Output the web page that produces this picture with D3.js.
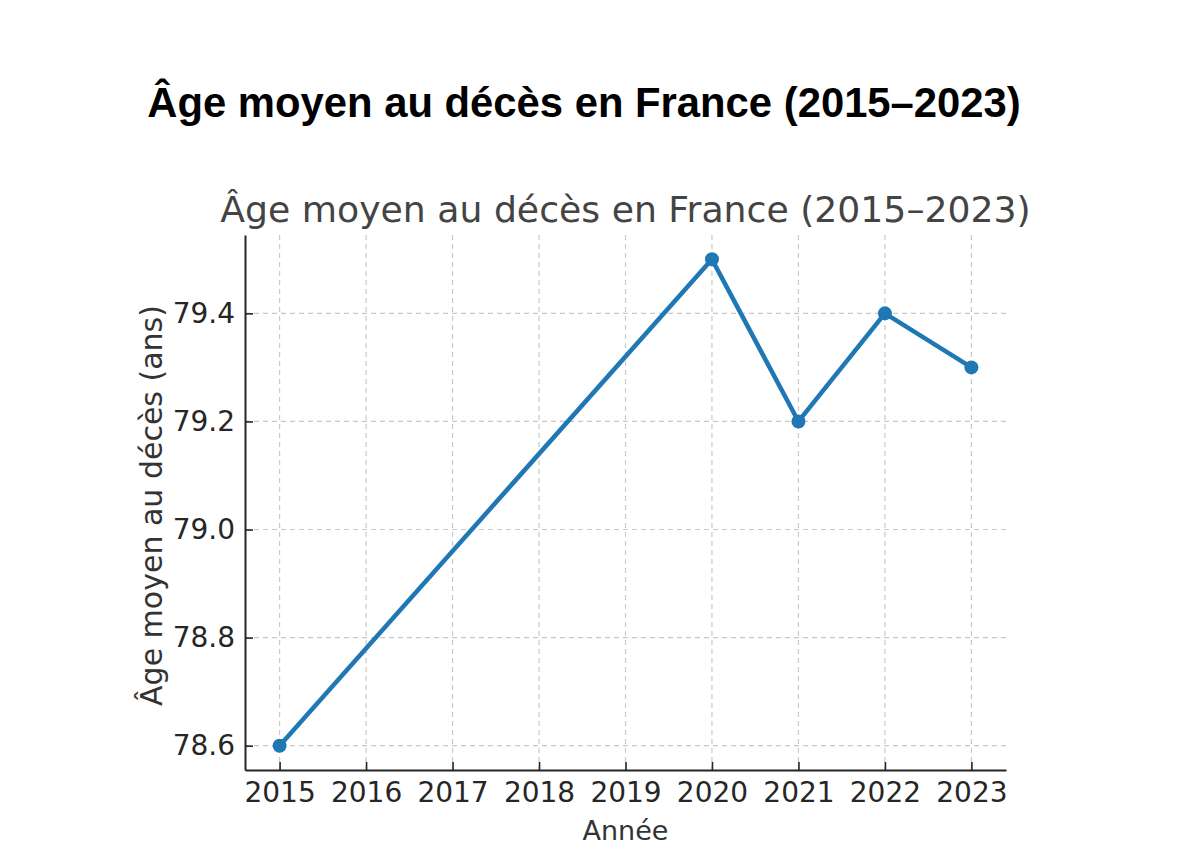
<!DOCTYPE html>
<html>
<head>
<meta charset="utf-8">
<script src="https://cdn.jsdelivr.net/npm/d3@7"></script>
<style>
  body { margin: 0; background: #fff; }
</style>
</head>
<body>
<div id="chart"></div>
<script>
// data
const years = [2015, 2020, 2021, 2022, 2023]
const ages = [78.6, 79.5, 79.2, 79.4, 79.3]
const xTicks = [2015, 2016, 2017, 2018, 2019, 2020, 2021, 2022, 2023]
const yTicks = [78.6, 78.8, 79.0, 79.2, 79.4]

const data = years.map((y, i) => ({ year: y, age: ages[i] }))

const W = 1200, H = 867
const plotLeft = 245, plotRight = 1006, plotTop = 235, plotBottom = 770

const svg = d3.select("#chart")
    .append("svg")
    .attr("width", W)
    .attr("height", H)

// outer bold title
svg.append("text")
    .attr("x", 584)
    .attr("y", 117)
    .attr("text-anchor", "middle")
    .attr("font-family", "Liberation Sans, Arial, sans-serif")
    .attr("font-weight", "bold")
    .attr("font-size", 41.8)
    .attr("fill", "#000")
    .text("Âge moyen au décès en France (2015–2023)")

const x = d3.scaleLinear()
    .domain([2014.6, 2023.4])
    .range([plotLeft, plotRight])

const y = d3.scaleLinear()
    .domain([78.555, 79.545])
    .range([plotBottom, plotTop])

const g = svg.append("g")
    .attr("font-family", "DejaVu Sans, sans-serif")

// grid
g.append("g")
    .selectAll("line")
    .data(xTicks)
    .enter().append("line")
    .attr("x1", d => x(d)).attr("x2", d => x(d))
    .attr("y1", plotTop).attr("y2", plotBottom)
    .attr("stroke", "#c8c8c8")
    .attr("stroke-width", 1.2)
    .attr("stroke-dasharray", "5,4")

g.append("g")
    .selectAll("line")
    .data(yTicks)
    .enter().append("line")
    .attr("y1", d => y(d)).attr("y2", d => y(d))
    .attr("x1", plotLeft).attr("x2", plotRight)
    .attr("stroke", "#c8c8c8")
    .attr("stroke-width", 1.2)
    .attr("stroke-dasharray", "5,4")

// axes, ticks pointing inward
const xAxisCall = d3.axisBottom(x)
    .tickValues(xTicks)
    .tickFormat(d3.format("d"))
    .tickSizeInner(-8)
    .tickSizeOuter(0)
    .tickPadding(12)

const xAxis = g.append("g")
    .attr("transform", `translate(0, ${plotBottom})`)
    .call(xAxisCall)

const yAxisCall = d3.axisLeft(y)
    .tickValues(yTicks)
    .tickFormat(d3.format(".1f"))
    .tickSizeInner(-8)
    .tickSizeOuter(0)
    .tickPadding(10)

const yAxis = g.append("g")
    .attr("transform", `translate(${plotLeft}, 0)`)
    .call(yAxisCall)

;[xAxis, yAxis].forEach(a => {
    a.select(".domain").attr("stroke", "#262626").attr("stroke-width", 2)
    a.selectAll(".tick line").attr("stroke", "#262626").attr("stroke-width", 1.6)
    a.selectAll(".tick text")
        .attr("font-family", "DejaVu Sans, sans-serif")
        .attr("font-size", 28)
        .attr("fill", "#262626")
})
xAxis.selectAll(".tick text").attr("dy", "0.71em")

// line + markers
const line = d3.line()
    .x(d => x(d.year))
    .y(d => y(d.age))

g.append("path")
    .datum(data)
    .attr("d", line)
    .attr("fill", "none")
    .attr("stroke", "#1f77b4")
    .attr("stroke-width", 4.5)
    .attr("stroke-linejoin", "round")

g.selectAll("circle")
    .data(data)
    .enter().append("circle")
    .attr("cx", d => x(d.year))
    .attr("cy", d => y(d.age))
    .attr("r", 7)
    .attr("fill", "#1f77b4")

// inner title and axis labels
g.append("text")
    .attr("x", (plotLeft + plotRight) / 2)
    .attr("y", 222)
    .attr("text-anchor", "middle")
    .attr("font-size", 36.2)
    .attr("fill", "#444")
    .text("Âge moyen au décès en France (2015–2023)")

g.append("text")
    .attr("x", (plotLeft + plotRight) / 2)
    .attr("y", 840)
    .attr("text-anchor", "middle")
    .attr("font-size", 27)
    .attr("fill", "#333")
    .text("Année")

g.append("text")
    .attr("transform", `translate(162, ${(plotTop + plotBottom) / 2 + 3}) rotate(-90)`)
    .attr("text-anchor", "middle")
    .attr("font-size", 30)
    .attr("fill", "#333")
    .text("Âge moyen au décès (ans)")
</script>
</body>
</html>
